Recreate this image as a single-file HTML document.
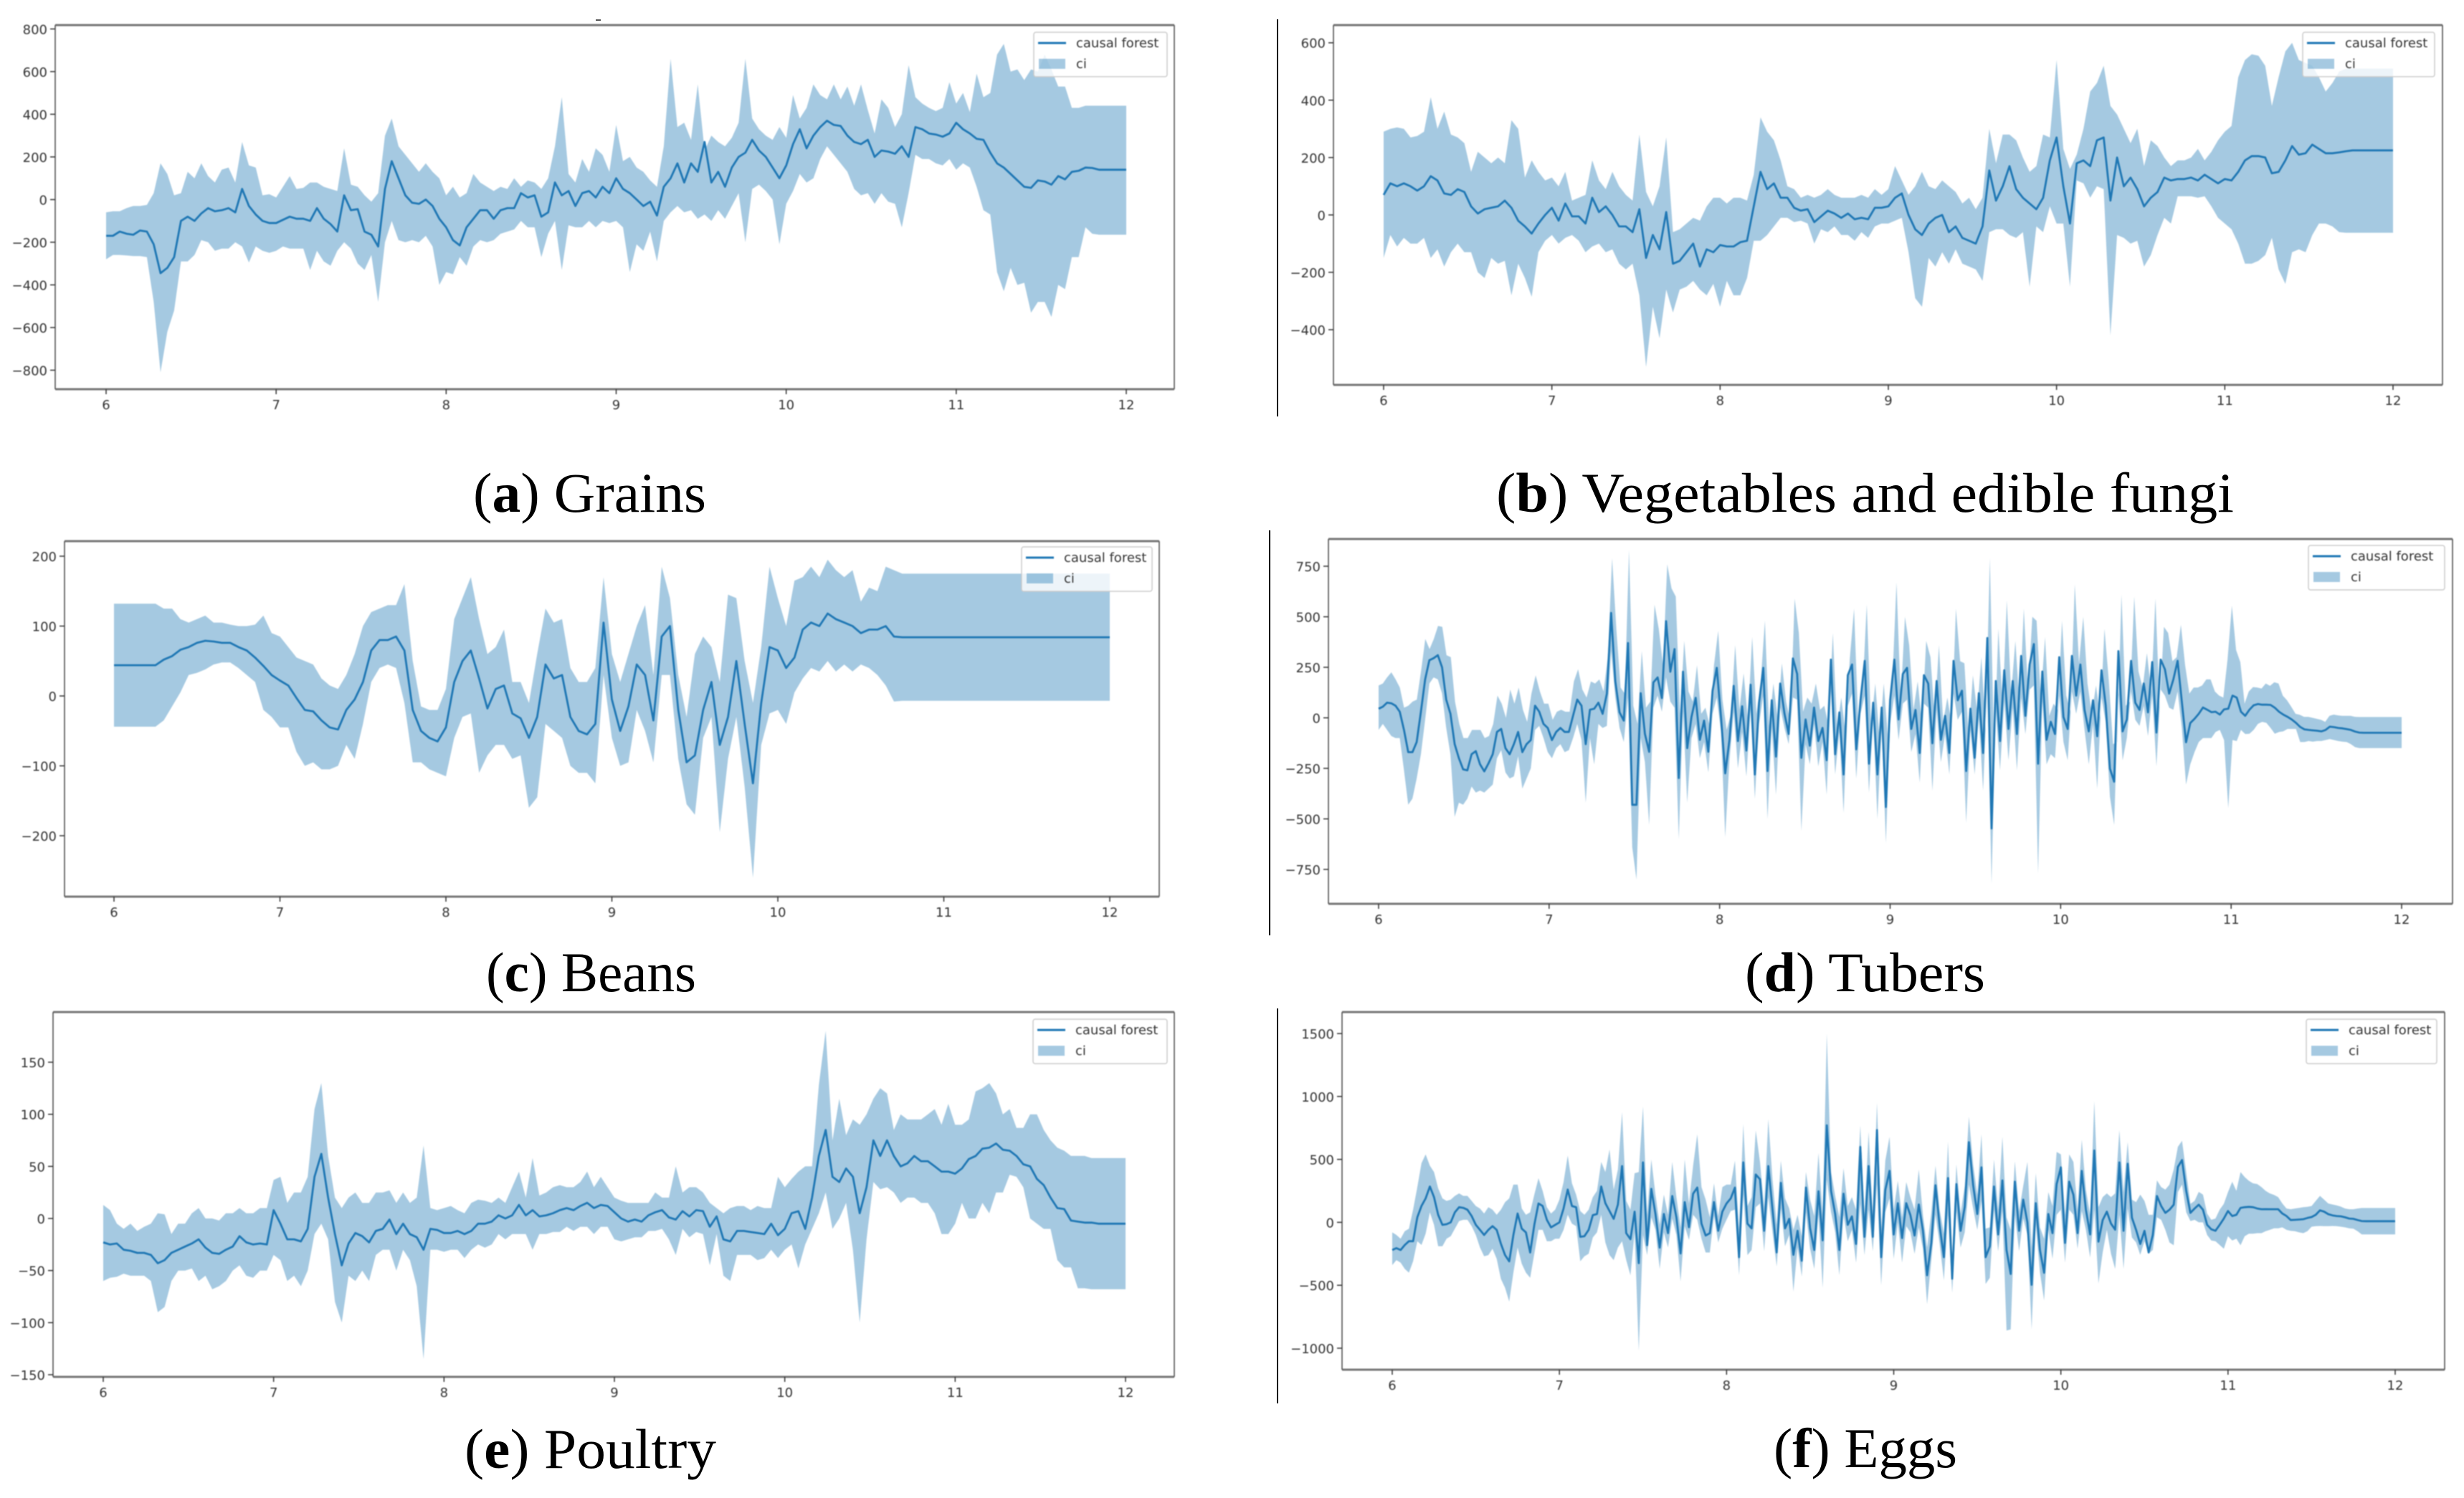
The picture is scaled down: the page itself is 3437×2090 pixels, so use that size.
<!DOCTYPE html>
<html lang="en">
<head>
<meta charset="utf-8">
<title>Causal forest estimates by food category</title>
<style>
html,body{margin:0;padding:0;background:#fff;width:3437px;height:2090px;overflow:hidden}
svg{display:block}
.tick{font-family:"DejaVu Sans","Liberation Sans",sans-serif;font-size:18px;fill:#333}
.leg{font-family:"DejaVu Sans","Liberation Sans",sans-serif;font-size:18px;fill:#333}
.cap{font-family:"Liberation Serif",serif;font-size:78px;fill:#000}
</style>
</head>
<body>
<svg id="figure" xmlns="http://www.w3.org/2000/svg" width="3437" height="2090" viewBox="0 0 3437 2090">
<rect width="3437" height="2090" fill="#fff"/>
<rect x="831" y="27" width="7" height="2" fill="#555"/>
<line x1="1782" y1="27" x2="1782" y2="581" stroke="#000" stroke-width="2"/>
<line x1="1771" y1="740" x2="1771" y2="1305" stroke="#000" stroke-width="2"/>
<line x1="1782" y1="1407" x2="1782" y2="1958" stroke="#000" stroke-width="2"/>
<text class="cap" x="660" y="714" textLength="325" lengthAdjust="spacingAndGlyphs">(<tspan font-weight="bold">a</tspan>) Grains</text>
<text class="cap" x="2087" y="714" textLength="1029" lengthAdjust="spacingAndGlyphs">(<tspan font-weight="bold">b</tspan>) Vegetables and edible fungi</text>
<text class="cap" x="678" y="1383" textLength="293" lengthAdjust="spacingAndGlyphs">(<tspan font-weight="bold">c</tspan>) Beans</text>
<text class="cap" x="2434" y="1383" textLength="335" lengthAdjust="spacingAndGlyphs">(<tspan font-weight="bold">d</tspan>) Tubers</text>
<text class="cap" x="648" y="2048" textLength="351" lengthAdjust="spacingAndGlyphs">(<tspan font-weight="bold">e</tspan>) Poultry</text>
<text class="cap" x="2474" y="2047" textLength="256" lengthAdjust="spacingAndGlyphs">(<tspan font-weight="bold">f</tspan>) Eggs</text>
</svg>
<script>
const monthTicks = [6,7,8,9,10,11,12];
const grainsTicks = [800,600,400,200,0,-200,-400,-600,-800];
const vegetablesTicks = [600,400,200,0,-200,-400];
const beansTicks = [200,100,0,-100,-200];
const tubersTicks = [750,500,250,0,-250,-500,-750];
const poultryTicks = [150,100,50,0,-50,-100,-150];
const eggsTicks = [1500,1000,500,0,-500,-1000];
const legendLabels = ["causal forest","ci"];

const grainsMean = [-170,-170,-150,-160,-165,-145,-150,-210,-345,-320,-270,-100,-80,-100,-65,-40,-55,-50,-40,-60,50,-30,-70,-100,-110,-110,-95,-80,-90,-90,-100,-40,-90,-115,-150,20,-50,-45,-150,-165,-220,50,180,100,20,-15,-20,0,-30,-90,-130,-190,-215,-130,-90,-50,-50,-90,-50,-40,-40,30,10,20,-80,-60,80,20,40,-30,30,40,10,60,30,100,50,30,0,-30,-10,-75,60,100,170,80,170,130,270,80,130,60,150,200,220,280,230,200,150,100,160,260,330,240,300,340,370,350,345,300,270,260,280,200,230,225,215,250,200,340,330,310,305,295,310,360,330,310,285,280,220,170,150,120,90,60,55,90,85,70,110,95,130,135,150,148,140,140,140,140,140];
const grainsUpper = [-60,-55,-55,-40,-30,-30,-25,30,170,120,20,30,130,100,170,110,80,140,150,80,270,160,150,20,25,10,60,110,50,55,80,80,60,50,40,240,70,60,20,-10,30,300,380,250,210,170,130,170,130,100,20,60,10,30,120,80,60,40,60,50,100,60,90,80,50,100,250,480,120,80,190,130,240,210,130,350,180,200,150,130,90,60,250,660,340,360,280,540,230,300,270,250,290,360,660,380,330,300,280,340,290,490,380,430,540,490,470,540,470,530,440,540,420,310,470,430,340,400,630,480,450,430,415,430,550,450,500,410,590,480,500,680,730,600,610,560,610,600,680,610,530,530,430,430,440,440,440,440,440,440,440];
const grainsLower = [-280,-260,-260,-262,-265,-265,-270,-480,-810,-620,-520,-290,-290,-260,-190,-200,-240,-230,-230,-200,-220,-295,-220,-240,-250,-240,-220,-230,-230,-230,-330,-240,-290,-310,-240,-200,-230,-300,-330,-260,-480,-200,-100,-190,-200,-190,-200,-170,-220,-400,-340,-350,-270,-310,-220,-190,-200,-190,-160,-150,-140,-100,-130,-130,-270,-160,-100,-330,-120,-130,-130,-100,-130,-100,-110,-100,-130,-340,-210,-240,-150,-290,-100,-60,-30,-60,-50,-90,-70,-100,-50,-90,-30,30,-200,50,70,40,0,-210,-20,40,120,80,100,190,250,210,170,130,50,20,30,-20,30,-10,-20,-130,30,210,190,190,170,160,190,140,170,150,60,-50,-70,-340,-430,-320,-400,-390,-530,-480,-480,-550,-400,-420,-270,-270,-130,-160,-165,-165,-165,-165,-165];

const vegetablesMean = [70,110,100,110,100,85,100,135,120,75,70,90,80,30,5,20,25,30,50,25,-20,-40,-65,-30,0,25,-20,40,-5,-5,-30,60,10,30,0,-40,-40,-60,20,-150,-70,-120,10,-170,-160,-130,-100,-180,-120,-130,-105,-110,-110,-95,-90,30,150,90,110,60,60,25,15,20,-25,-5,15,5,-10,5,-15,-10,-15,25,25,30,60,75,0,-50,-70,-30,-10,0,-60,-40,-80,-90,-100,-40,155,50,100,170,90,60,40,20,60,190,270,100,-30,180,190,170,260,270,50,200,100,130,90,30,60,80,130,120,125,125,130,120,140,125,110,125,120,150,190,205,205,200,145,150,190,240,210,215,245,230,215,215,218,222,225,225,225,225,225,225,225];
const vegetablesUpper = [290,300,305,300,270,275,290,410,300,360,280,270,250,150,220,200,180,200,180,330,300,130,190,150,120,130,100,150,50,60,70,190,120,90,150,100,70,50,280,80,30,100,270,-60,-50,-30,-10,-20,30,60,60,40,60,60,50,140,340,290,260,190,100,90,60,70,60,70,90,70,60,60,60,70,60,90,70,90,170,120,70,100,150,100,90,120,100,80,40,60,20,60,300,180,280,280,260,200,150,170,280,270,540,230,160,210,300,430,460,520,380,350,300,250,300,170,260,240,200,170,190,190,200,230,190,220,260,290,310,480,540,560,555,520,380,480,570,600,540,530,520,480,430,460,500,510,510,510,510,510,510,510,510];
const vegetablesLower = [-150,-70,-110,-80,-100,-100,-80,-150,-120,-180,-130,-100,-130,-130,-200,-220,-150,-170,-160,-280,-170,-220,-285,-130,-90,-70,-100,-80,-70,-90,-130,-110,-100,-130,-120,-170,-190,-170,-280,-530,-320,-430,-260,-340,-260,-250,-230,-260,-280,-240,-320,-230,-280,-280,-220,-90,-90,-70,-40,-10,-10,-25,-20,-30,-100,-50,-60,-40,-70,-70,-90,-60,-80,-40,-30,-30,-20,-10,-130,-290,-320,-150,-180,-130,-170,-120,-170,-180,-190,-230,-60,-50,-50,-70,-80,-60,-250,-40,-60,30,-30,-30,-250,120,110,60,100,90,-420,-70,-80,-100,-90,-180,-140,-70,-10,-30,65,65,65,60,65,30,-10,-30,-50,-100,-170,-170,-160,-140,-80,-190,-240,-130,-120,-130,-70,-30,-30,-40,-60,-62,-62,-62,-62,-62,-62,-62,-62];

const beansMean = [44,44,44,44,44,44,52,57,66,70,76,79,78,76,76,70,65,55,43,30,22,15,-3,-20,-22,-35,-45,-48,-20,-5,20,65,80,80,85,65,-20,-50,-60,-65,-45,20,50,65,25,-18,10,15,-25,-32,-60,-30,45,25,30,-30,-50,-55,-40,105,-5,-50,-15,45,30,-35,85,100,-20,-95,-85,-20,20,-70,-30,50,-40,-125,-10,70,65,40,55,95,105,100,118,110,105,100,90,95,95,100,85,84,84,84,84,84,84,84,84,84,84,84,84,84,84,84,84,84,84,84,84,84,84,84,84,84,84];
const beansUpper = [132,132,132,132,132,132,125,125,110,105,110,115,105,105,102,100,100,102,115,90,85,70,55,50,45,25,15,10,30,60,100,120,125,130,130,160,50,-15,-20,-20,10,110,140,170,110,60,70,95,20,20,-10,60,125,105,110,40,20,20,40,170,60,20,60,100,130,30,185,140,30,-30,60,85,70,20,145,140,50,-10,70,185,140,100,165,170,185,170,195,180,170,180,135,155,150,185,180,175,175,175,175,175,175,175,175,175,175,175,175,175,175,175,175,175,175,175,175,175,175,175,175,175,175];
const beansLower = [-44,-44,-44,-44,-44,-44,-35,-15,5,30,33,38,45,48,48,40,30,20,-20,-30,-45,-45,-80,-100,-95,-105,-105,-100,-70,-90,-40,20,40,45,40,-10,-95,-95,-105,-110,-115,-60,-30,-25,-110,-85,-70,-70,-90,-85,-160,-145,-40,-50,-60,-100,-110,-110,-125,30,-60,-100,-95,-20,-50,-95,30,30,-90,-155,-170,-60,-30,-195,-90,-30,-130,-260,-70,-25,-20,-40,5,25,40,35,50,35,45,35,45,40,30,15,-8,-7,-7,-7,-7,-7,-7,-7,-7,-7,-7,-7,-7,-7,-7,-7,-7,-7,-7,-7,-7,-7,-7,-7,-7,-7,-7];

const tubersMean = [45,55,75,72,60,30,-60,-170,-170,-120,30,190,285,295,310,250,90,20,-130,-200,-255,-260,-180,-165,-230,-265,-225,-180,-70,-55,-150,-180,-130,-70,-170,-130,-110,60,30,-30,-50,-110,-70,-50,-70,-70,10,90,60,-130,40,45,75,20,120,519,180,27,-14,370,-430,-430,122,-80,-168,175,200,98,478,228,340,-298,228,-150,4,99,-109,-14,-168,134,247,4,-275,-109,158,-115,57,-162,164,-280,75,247,-263,87,-192,170,22,-80,294,217,-198,-8,-138,51,-115,-50,-210,288,-180,27,-280,211,264,-156,87,282,-227,75,-280,51,-441,87,288,-8,217,247,-55,39,-174,211,170,-126,182,-109,10,-174,282,87,134,-263,45,-198,122,-174,395,-547,182,-115,235,-55,182,-80,306,10,264,365,-227,229,-109,-20,-80,300,4,-55,306,110,264,39,-67,87,-91,235,63,-251,-316,330,-67,-8,282,75,39,170,27,276,-73,288,240,120,190,282,80,-121,-26,-5,20,51,40,28,30,16,42,45,110,100,30,10,40,62,68,65,65,64,50,30,16,5,-8,-25,-45,-57,-60,-62,-64,-67,-60,-44,-46,-50,-52,-56,-60,-68,-73,-74,-74,-74,-74,-74,-74,-74,-74,-74,-74];
const tubersUpper = [160,170,200,225,190,150,50,60,80,90,230,390,340,390,455,450,310,300,80,-30,-100,-100,-60,-60,-60,-100,-90,-30,110,70,0,140,70,150,40,-20,120,210,130,70,70,-10,30,40,30,30,180,240,140,100,180,170,190,130,300,790,440,150,120,830,60,-30,330,50,80,560,440,260,760,640,600,20,380,130,80,260,20,50,-40,260,430,90,-60,20,360,40,220,-10,400,20,170,480,-40,170,0,270,80,-20,590,420,30,100,70,170,40,60,-40,420,-50,100,-80,290,540,-30,130,560,-40,170,-100,170,-100,170,670,90,500,360,40,180,-30,380,300,0,360,-20,100,-40,540,280,270,-90,210,30,300,-60,790,-170,440,60,580,120,380,60,540,130,500,480,100,400,10,70,40,480,110,30,660,270,500,170,20,160,0,440,190,-130,-120,610,60,80,600,230,150,320,130,590,50,450,420,280,300,460,260,120,150,150,160,190,190,130,110,100,290,555,335,276,70,130,152,150,145,170,158,176,170,110,87,55,20,15,5,5,0,-5,-10,-20,10,16,12,10,10,10,5,4,4,4,4,4,4,4,4,4,4,4];
const tubersLower = [-60,-30,-60,-90,-100,-100,-260,-430,-400,-300,-180,-10,170,200,190,120,-50,-180,-490,-420,-430,-400,-340,-370,-360,-370,-350,-330,-200,-160,-270,-300,-290,-190,-350,-300,-250,-60,-40,-100,-170,-200,-150,-130,-170,-160,-100,-30,-110,-420,-100,-230,-30,-50,-40,330,100,-50,-120,100,-640,-800,-100,-220,-530,50,110,30,200,80,50,-600,30,-420,-100,-30,-200,-120,-270,20,100,-70,-590,-210,30,-250,-70,-290,40,-400,-30,110,-500,-50,-380,50,-50,-130,100,90,-560,-130,-230,-30,-240,-120,-380,130,-280,-70,-470,60,120,-300,20,110,-370,-10,-500,-50,-620,-30,110,-110,70,90,-170,-80,-320,70,50,-360,40,-220,-80,-280,120,-10,30,-520,-60,-280,0,-360,150,-820,40,-260,80,-210,50,-260,100,-80,140,160,-770,80,-230,-180,-200,110,-120,-210,130,20,130,-60,-230,-30,-350,100,-20,-390,-530,130,-210,-100,130,-10,-40,60,-90,110,-240,140,110,50,40,130,-50,-330,-230,-170,-120,-100,-100,-100,-70,-60,-110,-446,-110,-115,-60,-80,-79,-60,-30,-20,-25,-50,-79,-70,-67,-55,-55,-55,-120,-120,-115,-118,-115,-115,-110,-105,-110,-115,-118,-120,-130,-145,-150,-150,-150,-150,-150,-150,-150,-150,-150,-150,-150];

const poultryMean = [-23,-25,-24,-30,-31,-33,-33,-35,-43,-40,-33,-30,-27,-24,-20,-28,-33,-34,-30,-27,-17,-23,-25,-24,-25,8,-5,-20,-20,-22,-10,40,62,20,-15,-45,-24,-14,-17,-23,-12,-10,-1,-15,-5,-15,-18,-30,-10,-11,-14,-14,-12,-15,-12,-5,-5,-3,3,0,3,13,3,8,2,3,5,8,10,8,12,15,10,13,12,6,0,-3,-1,-3,3,6,8,1,-1,7,2,8,7,-8,2,-20,-22,-12,-12,-13,-14,-15,-5,-16,-10,5,7,-10,20,60,85,40,35,48,40,5,30,75,60,75,60,50,53,60,55,55,50,45,45,43,48,57,60,67,68,72,66,65,60,52,50,38,32,20,10,9,-2,-3,-4,-4,-5,-5,-5,-5,-5];
const poultryUpper = [13,8,-5,-10,-5,-12,-8,-5,5,4,-15,-5,-5,5,10,0,0,-2,5,5,10,5,5,10,10,37,40,15,25,25,40,105,130,60,20,10,20,25,15,15,25,25,27,15,25,15,20,70,10,8,10,12,8,5,15,18,17,15,20,15,30,45,20,58,22,25,30,32,30,30,35,45,30,40,30,20,17,15,15,15,15,25,20,20,50,25,30,30,25,15,10,5,10,12,12,8,12,10,10,40,30,38,45,50,50,128,180,75,115,80,95,90,100,115,125,120,85,100,95,95,95,100,105,90,110,90,90,95,122,125,130,120,100,105,87,87,100,100,85,75,68,65,60,60,60,58,58,58,58,58,58];
const poultryLower = [-60,-57,-56,-53,-55,-55,-55,-60,-90,-85,-60,-50,-50,-48,-60,-55,-68,-65,-60,-50,-45,-55,-57,-50,-50,-35,-40,-60,-55,-65,-50,-15,-5,-20,-80,-100,-55,-60,-50,-60,-35,-30,-30,-50,-30,-40,-65,-135,-30,-30,-32,-30,-30,-38,-30,-25,-28,-25,-15,-20,-15,-15,-15,-30,-15,-15,-13,-13,-8,-12,-8,-8,-15,-8,-8,-20,-22,-20,-18,-18,-12,-12,-10,-20,-35,-10,-18,-13,-15,-45,-15,-55,-60,-35,-35,-35,-40,-38,-30,-38,-30,-25,-48,-25,-10,5,25,-10,0,15,-30,-100,-20,35,28,30,25,15,20,20,15,15,5,-15,-15,-5,15,0,0,15,5,25,25,42,40,30,0,-5,-10,-10,-40,-47,-47,-67,-67,-68,-68,-68,-68,-68,-68];

const eggsMean = [-220,-205,-220,-180,-150,-150,40,130,190,285,200,60,-20,-15,0,80,120,115,100,50,-20,-60,-100,-60,-30,-60,-170,-260,-310,-100,70,-50,-80,-240,-20,150,130,20,-40,-20,0,110,260,130,120,-115,-110,-60,57,66,285,152,90,28,142,447,-86,-134,85,-324,476,-181,266,66,-201,66,-86,209,40,-248,161,-39,228,276,-10,-105,-86,161,-67,85,150,190,276,-277,476,-10,-48,380,342,-67,447,100,-239,314,-48,28,-258,-67,-305,276,-48,-220,247,-143,771,250,66,-220,228,-20,47,-172,599,-115,447,-115,733,-277,257,409,-96,152,-125,152,57,-105,142,-67,-420,-163,295,-29,-277,352,-448,304,-67,123,637,295,66,437,-277,-191,285,-96,333,-220,-410,323,-67,180,0,-496,152,-220,-401,66,-86,304,437,-163,323,218,-86,409,100,-96,571,-153,18,85,-10,-58,476,-67,466,37,-60,-172,-67,-239,-100,209,130,75,100,140,440,495,250,75,110,140,100,-20,-55,-67,-20,30,90,50,60,115,120,123,120,110,104,105,104,104,104,70,50,18,20,22,25,35,42,60,95,85,65,55,50,48,40,30,28,18,10,9,9,9,9,9,9,9,9];
const eggsUpper = [-80,-100,-130,-70,-50,100,280,470,540,450,400,270,190,170,180,210,230,210,210,170,130,110,70,120,100,60,100,160,190,300,300,110,60,80,220,350,250,120,70,100,180,320,530,310,220,90,60,100,200,250,480,400,580,260,420,875,170,100,390,400,920,60,500,220,-20,220,60,480,200,-40,500,150,450,700,280,180,40,310,50,280,300,300,490,-50,780,130,200,730,480,120,820,340,-20,490,190,110,-60,60,-110,400,180,50,550,60,1500,400,210,40,430,130,200,100,770,60,720,60,950,-50,490,680,100,330,40,320,200,100,420,60,-200,80,450,100,-90,640,-260,460,70,290,840,460,220,700,-50,-40,500,100,680,40,-60,485,90,290,480,-200,390,-40,-130,240,130,560,540,60,540,480,100,657,260,60,962,120,200,230,200,230,733,240,638,180,160,220,170,60,60,333,280,260,300,420,600,648,400,147,170,242,220,70,20,30,100,147,240,323,250,400,360,330,310,304,280,250,230,218,200,150,110,104,110,115,120,123,130,170,210,180,150,142,135,125,110,104,104,110,114,114,114,114,114,114,114,114,114];
const eggsLower = [-340,-300,-320,-370,-400,-310,-150,-180,-90,80,-20,-190,-190,-130,-110,-50,10,20,20,-30,-100,-200,-270,-260,-210,-290,-450,-520,-630,-400,-200,-330,-400,-440,-250,-60,-60,-150,-150,-130,-130,-60,60,-10,-30,-310,-270,-250,-120,-80,60,-160,-260,-300,-200,-150,-300,-420,-80,-1020,-100,-260,40,-60,-370,-80,-200,30,-100,-470,-30,-140,60,20,-130,-240,-240,50,-160,-50,20,90,100,-420,220,-260,-220,120,150,-230,200,-80,-350,110,-190,-100,-550,-200,-430,80,-210,-370,60,-520,340,80,-80,-420,60,-150,-60,-320,150,-260,100,-230,300,-500,80,190,-290,0,-320,-30,-80,-250,-40,-210,-650,-300,60,-170,-460,60,-560,90,-200,-80,300,110,-60,170,-490,-440,100,-230,90,-860,-850,60,-230,30,-100,-850,-20,-400,-620,-60,-290,60,100,-320,100,60,-210,90,-60,-280,100,-486,-240,-60,-250,-370,60,-370,110,-120,-160,-258,-150,-250,-220,40,20,-60,-160,-182,240,300,80,10,20,0,0,-100,-144,-150,-180,-210,-110,-144,-130,-182,-110,-90,-90,-86,-86,-70,-60,-48,-48,-40,-60,-67,-70,-80,-86,-70,-35,-30,-29,-30,-30,-29,-30,-35,-40,-48,-50,-70,-96,-96,-96,-96,-96,-96,-96,-96,-96];

const SVG_NS = "http://www.w3.org/2000/svg";
const figure = document.getElementById("figure");

function make(tag, attrs, parent, text) {
  const el = document.createElementNS(SVG_NS, tag);
  for (const k in attrs) el.setAttribute(k, attrs[k]);
  if (text !== undefined) el.textContent = text;
  parent.appendChild(el);
  return el;
}

function drawPanel(p) {
  const g = make("g", {style: "filter:blur(0.75px)"}, figure);
  
  

  const xScale = v => p.x6 + (v - 6) * (p.x12 - p.x6) / 6;
  const yScale = v => p.py1 + (p.v1 - v) * (p.py2 - p.py1) / (p.v1 - p.v2);
  const monthAt = (i, n) => 6 + i * 6 / (n - 1);

  const bandPts = [];
  p.upper.forEach((v, i) => bandPts.push(xScale(monthAt(i, p.upper.length)).toFixed(1) + "," + yScale(v).toFixed(1)));
  for (let i = p.lower.length - 1; i >= 0; i--) bandPts.push(xScale(monthAt(i, p.lower.length)).toFixed(1) + "," + yScale(p.lower[i]).toFixed(1));
  const band = make("polygon", {points: bandPts.join(" "), fill: "#1f77b4", "fill-opacity": "0.4"}, g);
  
  

  const linePts = p.mean.map((v, i) => xScale(monthAt(i, p.mean.length)).toFixed(1) + "," + yScale(v).toFixed(1));
  const line = make("polyline", {points: linePts.join(" "), fill: "none", stroke: "#1f77b4", "stroke-width": "2.8", "stroke-linejoin": "round"}, g);
  
  

  const spines = make("g", {}, g);
  
  
  make("line", {x1: p.l, y1: p.t, x2: p.r, y2: p.t, stroke: "#777", "stroke-width": "3"}, spines);
  make("line", {x1: p.l, y1: p.b, x2: p.r, y2: p.b, stroke: "#777", "stroke-width": "3"}, spines);
  make("line", {x1: p.l, y1: p.t, x2: p.l, y2: p.b, stroke: "#555", "stroke-width": "1.6"}, spines);
  make("line", {x1: p.r, y1: p.t, x2: p.r, y2: p.b, stroke: "#555", "stroke-width": "1.6"}, spines);

  monthTicks.forEach(v => {
    const x = xScale(v);
    make("line", {x1: x, y1: p.b, x2: x, y2: p.b + 7, stroke: "#333", "stroke-width": "1.5"}, g);
    const t = make("text", {class: "tick", x: x, y: p.b + 28, "text-anchor": "middle"}, g, String(v));
    
    
  });
  p.ticks.forEach(v => {
    const y = yScale(v);
    make("line", {x1: p.l - 7, y1: y, x2: p.l, y2: y, stroke: "#333", "stroke-width": "1.5"}, g);
    const t = make("text", {class: "tick", x: p.l - 11, y: y + 7, "text-anchor": "end"}, g, String(v).replace("-", "\u2212"));
    
    
  });

  const leg = make("g", {}, g);
  
  
  const w = p.lw, h = 62, lx = p.lx, ly = p.ly;
  make("rect", {x: lx, y: ly, width: w, height: h, rx: 3, fill: "#fff", "fill-opacity": "0.8", stroke: "#ccc", "stroke-width": "1.5"}, leg);
  make("line", {x1: lx + 6, y1: ly + 15, x2: lx + 45, y2: ly + 15, stroke: "#1f77b4", "stroke-width": "3"}, leg);
  make("rect", {x: lx + 7, y: ly + 37, width: 37, height: 14, fill: "#1f77b4", "fill-opacity": "0.4"}, leg);
  make("text", {class: "leg", x: lx + 59, y: ly + 21}, leg, legendLabels[0]);
  make("text", {class: "leg", x: lx + 59, y: ly + 50}, leg, legendLabels[1]);
}

drawPanel({name:"grains", l:77, r:1638, t:35, b:543, x6:148, x12:1571, v1:800, py1:40.4, v2:-800, py2:516.5, ticks:grainsTicks, mean:grainsMean, upper:grainsUpper, lower:grainsLower, lx:1442, ly:45, lw:186});
drawPanel({name:"vegetables", l:1860, r:3407, t:35, b:537, x6:1930, x12:3338, v1:600, py1:59.7, v2:-400, py2:460, ticks:vegetablesTicks, mean:vegetablesMean, upper:vegetablesUpper, lower:vegetablesLower, lx:3212, ly:45, lw:184});
drawPanel({name:"beans", l:90, r:1617, t:755, b:1251, x6:159, x12:1548, v1:200, py1:776, v2:-200, py2:1166, ticks:beansTicks, mean:beansMean, upper:beansUpper, lower:beansLower, lx:1425, ly:763, lw:182});
drawPanel({name:"tubers", l:1853, r:3421, t:752, b:1261, x6:1923, x12:3350, v1:750, py1:790, v2:-750, py2:1213, ticks:tubersTicks, mean:tubersMean, upper:tubersUpper, lower:tubersLower, lx:3220, ly:761, lw:190});
drawPanel({name:"poultry", l:74, r:1638, t:1412, b:1921, x6:144, x12:1570, v1:150, py1:1482, v2:-150, py2:1918, ticks:poultryTicks, mean:poultryMean, upper:poultryUpper, lower:poultryLower, lx:1441, ly:1422, lw:187});
drawPanel({name:"eggs", l:1872, r:3410, t:1412, b:1911, x6:1942, x12:3341, v1:1500, py1:1442, v2:-1000, py2:1881, ticks:eggsTicks, mean:eggsMean, upper:eggsUpper, lower:eggsLower, lx:3217, ly:1422, lw:182});
</script>
</body>
</html>
